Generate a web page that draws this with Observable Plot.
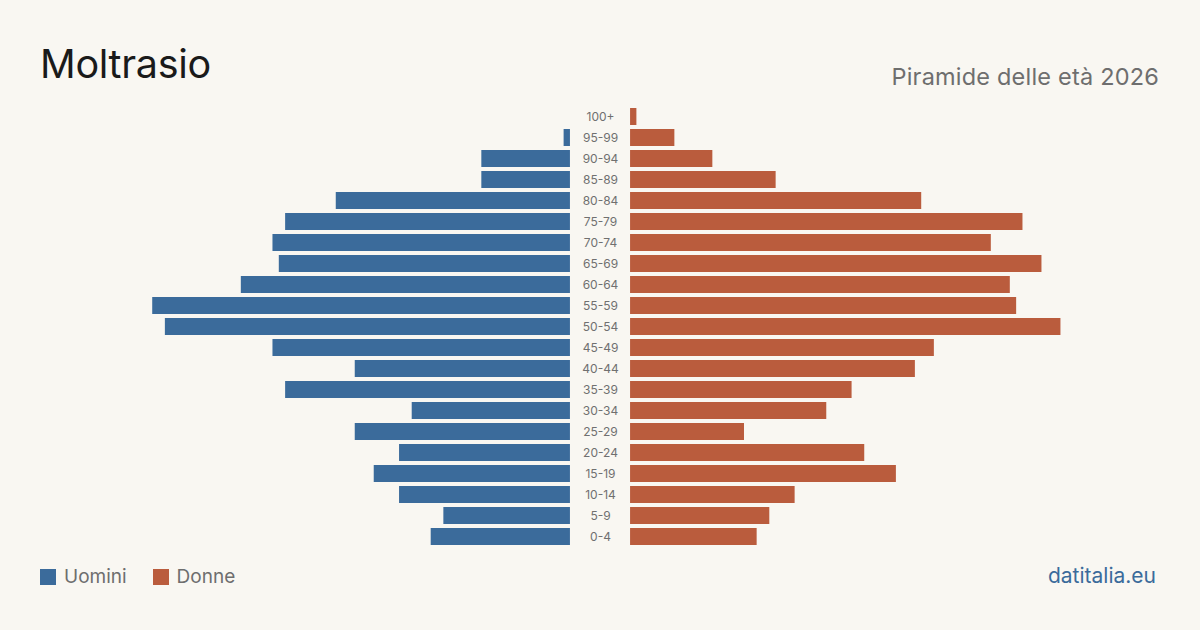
<!DOCTYPE html>
<html lang="it">
<head>
<meta charset="utf-8">
<script src="https://cdn.jsdelivr.net/npm/d3@7"></script>
<script src="https://cdn.jsdelivr.net/npm/@observablehq/plot@0.6"></script>
<style>
  html, body { margin: 0; padding: 0; background: #f9f7f2; }
  body { width: 1200px; height: 630px; position: relative; overflow: hidden;
         font-family: Inter, "Noto Sans", sans-serif; }
  #title { position: absolute; left: 40px; top: 45px; font-size: 39.5px; color: #1a1a1a;
           font-weight: 400; letter-spacing: -0.3px; line-height: 1; margin: 0; }
  #subtitle { position: absolute; right: 41px; top: 65px; font-size: 23.5px; color: #6e6e6e;
              line-height: 1; letter-spacing: 0.2px; }
  #chart { position: absolute; left: 0; top: 96px; }
  #legend { position: absolute; left: 40px; top: 566px; display: flex; gap: 26px;
            font-size: 19px; color: #6e6e6e; line-height: 22px; }
  #legend span.sw { display: inline-block; width: 16px; height: 16px; margin-right: 8px;
                    vertical-align: -2px; }
  #source { position: absolute; right: 44px; top: 565px; font-size: 21px; color: #3b6b9b;
            line-height: 22px; }
</style>
</head>
<body>
<h1 id="title">Moltrasio</h1>
<div id="subtitle">Piramide delle età 2026</div>
<div id="chart"></div>
<div id="legend">
  <div><span class="sw" style="background:#3b6b9b"></span>Uomini</div>
  <div><span class="sw" style="background:#ba5c3d"></span>Donne</div>
</div>
<div id="source">datitalia.eu</div>
<script>
// Age classes, oldest first (top of the pyramid)
const ages = ["100+", "95-99", "90-94", "85-89", "80-84", "75-79", "70-74", "65-69",
  "60-64", "55-59", "50-54", "45-49", "40-44", "35-39", "30-34", "25-29",
  "20-24", "15-19", "10-14", "5-9", "0-4"];
// Residents per class
const men   = [0, 1, 14, 14, 37, 45, 47, 46, 52, 66, 64, 47, 34, 45, 25, 34, 27, 31, 27, 20, 22];
const women = [1, 7, 13, 23, 46, 62, 57, 65, 60, 61, 68, 48, 45, 35, 31, 18, 37, 42, 26, 22, 20];

const rows = ages.map((age, i) => ({age, men: men[i], women: women[i]}));

// Half-width of the central label gutter, in x-scale units
const GAP = 4.75;

const chart = Plot.plot({
  width: 1200,
  height: 462,
  marginLeft: 0,
  marginRight: 0,
  marginTop: 10,
  marginBottom: 11,
  style: {background: "transparent", fontFamily: "Inter, 'Noto Sans', sans-serif"},
  x: {domain: [-94.8, 94.8], axis: null},
  y: {domain: ages, axis: null, paddingInner: 0.19, paddingOuter: 0.095},
  marks: [
    Plot.barX(rows, {
      y: "age",
      x1: d => -GAP - d.men,
      x2: -GAP,
      fill: "#3b6b9b"
    }),
    Plot.barX(rows, {
      y: "age",
      x1: GAP,
      x2: d => GAP + d.women,
      fill: "#ba5c3d"
    }),
    Plot.text(rows, {
      y: "age",
      x: 0,
      text: "age",
      fill: "#707070",
      fontSize: 12,
      textAnchor: "middle"
    })
  ]
});
document.getElementById("chart").appendChild(chart);
</script>
</body>
</html>
